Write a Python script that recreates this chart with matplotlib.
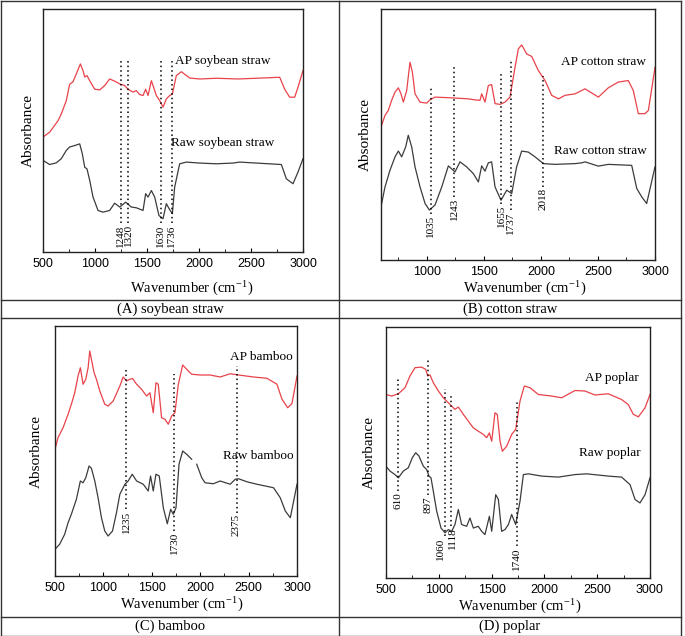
import matplotlib
matplotlib.use('Agg')
import matplotlib.pyplot as plt
from matplotlib.lines import Line2D
import numpy as np

# ---------------- data ----------------
# (A) soybean straw
soy_ap_wn = [500, 564, 644, 676, 724, 756, 788, 827, 859, 885, 901, 923, 949, 997, 1045, 1093, 1141, 1189,
             1237, 1285, 1317, 1365, 1397, 1429, 1462, 1487, 1510, 1542, 1558, 1590, 1622, 1654, 1686, 1718,
             1744, 1782, 1830, 1910, 2006, 2167, 2375, 2551, 2776, 2824, 2872, 2920, 2952, 3000]
soy_ap_abs = [47.3, 49.3, 54, 56.8, 62.3, 69, 70, 74, 77.4, 74.6, 72, 72.6, 70.5, 67, 66.7, 68.5, 71.2, 70.3,
              69.2, 68.5, 67, 65.8, 66.4, 64.8, 64.4, 67, 64.4, 70.5, 68.5, 64.4, 62.3, 59.6, 63, 64.4,
              65, 72.6, 74.2, 71.6, 71.2, 71.5, 71.2, 71.5, 71.9, 67, 63.7, 63.7, 67.8, 74.7]
soy_raw_wn = [500, 564, 628, 676, 724, 756, 804, 853, 878, 901, 923, 949, 981, 1029, 1077, 1141, 1189, 1237,
              1295, 1349, 1397, 1462, 1487, 1510, 1542, 1574, 1615, 1654, 1686, 1718, 1744, 1766, 1814, 1878,
              2006, 2167, 2327, 2391, 2551, 2792, 2840, 2904, 2952, 3000]
soy_raw_abs = [37.7, 36, 36.7, 38.4, 41.8, 43.2, 43.8, 44.5, 40.4, 34.9, 34.2, 29.5, 22.6, 17.1, 16.4, 17.1, 20.1, 18.5,
               20.5, 18.5, 18.2, 17.1, 24, 22.6, 25.3, 22.6, 15, 13.7, 19.9, 17.4, 15.8, 26.7, 36.3, 37,
               36.6, 36.3, 36.6, 37, 36.6, 36, 30.1, 28.1, 32.9, 38.4]
soy_peaks = [1248, 1320, 1630, 1736]
soy_peak_top = [78.8, 78.8, 78.8, 78.8]
soy_peak_bottom = [11.9, 11.9, 11.9, 11.9]

# (B) cotton straw
cot_ap_wn = [600, 635, 664, 693, 723, 752, 775, 796, 825, 854, 875, 898, 942, 1000, 1029, 1073, 1219, 1365,
             1423, 1467, 1482, 1511, 1540, 1569, 1599, 1642, 1686, 1730, 1774, 1803, 1832, 1876, 1920, 1978,
             2037, 2095, 2154, 2212, 2299, 2387, 2504, 2591, 2679, 2766, 2810, 2854, 2912, 2942, 3000]
cot_ap_abs = [53, 57.6, 59.6, 63.6, 66.9, 68.6, 66.2, 62.9, 67.5, 78.8, 74.8, 66.2, 62.9, 62.5, 63.8, 64.9, 64.6, 64.2,
              63.8, 63.6, 66.2, 62.9, 69.5, 69.9, 62.3, 62, 62.9, 64.9, 76.8, 84.1, 85.7, 82.1, 81.1, 75.5,
              71.5, 65.6, 64.2, 65.6, 66.2, 68.2, 64.9, 68.6, 70.9, 71.5, 67.5, 58.3, 58.3, 59.6, 76.8]
cot_raw_wn = [600, 635, 679, 723, 752, 781, 816, 839, 869, 898, 942, 986, 1024, 1073, 1132, 1190, 1248, 1292,
              1350, 1409, 1453, 1482, 1511, 1540, 1569, 1599, 1651, 1701, 1745, 1788, 1832, 1890, 1949, 2022,
              2124, 2299, 2358, 2387, 2504, 2591, 2796, 2840, 2883, 2927, 3000]
cot_raw_abs = [21.2, 29.1, 35.8, 41.1, 43.4, 41.1, 45, 49.7, 45, 37.1, 29.1, 22.5, 19.9, 21.9, 29.1, 37.5, 35.1, 39.1,
               37.1, 34.4, 31.1, 37.5, 35.4, 38.7, 39.1, 29.1, 23.8, 27.8, 26.5, 37.1, 43.4, 43, 41.1, 38.4,
               38.1, 38.4, 38.7, 39.1, 37.4, 38.1, 37.7, 28.5, 25.2, 22.5, 37.1]
cot_peaks = [1035, 1243, 1655, 1737, 2018]
cot_peak_top = [68.9, 76.8, 74.8, 80.1, 73.5]
cot_peak_bottom = [18.5, 25.2, 22.5, 19.9, 29.1]

# (C) bamboo
bam_ap_wn = [500, 531, 583, 635, 669, 704, 738, 762, 790, 818, 842, 859, 876, 904, 928, 963, 1014, 1049, 1101,
             1170, 1204, 1239, 1274, 1301, 1343, 1394, 1446, 1481, 1515, 1543, 1567, 1601, 1636, 1670, 1705,
             1739, 1774, 1819, 1860, 1912, 1999, 2102, 2206, 2310, 2396, 2551, 2689, 2793, 2845, 2904, 2948, 3000]
bam_ap_abs = [50.7, 55.3, 59.3, 64.7, 68.7, 73.3, 80, 83.3, 76.7, 78.7, 83.3, 90, 86.7, 81.3, 78.7, 74, 68.7, 68, 70,
              76, 79.6, 78, 78.7, 79, 76.7, 74.7, 72, 73.3, 65.3, 77.3, 76.7, 63.3, 62.7, 60.7, 64,
              65.3, 76.7, 84.4, 82.7, 80.7, 80.4, 80.4, 79.6, 80.9, 80.4, 79.6, 79.1, 76.7, 70.7, 67.3, 69, 80]
bam_raw_wn = [500, 548, 600, 635, 669, 721, 762, 790, 818, 852, 876, 911, 945, 980, 1014, 1049, 1094, 1135, 1170,
              1222, 1256, 1298, 1343, 1412, 1463, 1487, 1515, 1543, 1577, 1619, 1660, 1695, 1722, 1750, 1781,
              1819, 1860, 1912, 1938, 1964, 2016, 2050, 2136, 2206, 2310, 2362, 2396, 2482, 2586, 2758, 2827,
              2879, 2931, 3000]
bam_raw_abs = [10.7, 12.7, 16.7, 21.3, 24.7, 30.7, 38, 37.3, 39.3, 44, 43.1, 38, 31.3, 23.3, 18, 16, 18, 25.3, 32.7,
               36.7, 38, 40.7, 38, 36.7, 34, 40, 34, 40.7, 40, 27.3, 20.9, 26.7, 24.7, 27.3, 44.7,
               50, 48.7, 46.7, np.nan, 44.7, 39.3, 37.3, 36.9, 38, 36.7, 38.7, 38.9, 37.7, 36.7, 35.3, 31.3,
               26, 23.3, 36.7]
bam_peaks = [1235, 1730, 2375]
bam_peak_top = [83.3, 80.7, 84]
bam_peak_bottom = [26.7, 18, 25.3]

# (D) poplar
pop_ap_wn = [500, 554, 617, 680, 727, 775, 838, 876, 895, 917, 948, 996, 1043, 1090, 1153, 1185, 1232, 1280,
             1327, 1374, 1422, 1453, 1479, 1501, 1532, 1554, 1580, 1602, 1643, 1690, 1728, 1769, 1810, 1864,
             1943, 2069, 2164, 2290, 2384, 2479, 2605, 2731, 2794, 2842, 2890, 2953, 3000]
pop_ap_abs = [73.1, 72.5, 73.4, 75.8, 80.5, 83.8, 84, 83.1, 80.5, 80.9, 77.8, 74.5, 71.8, 69.8, 67.2, 68.1, 65.2, 62.5,
              59.8, 58.5, 57.2, 55.9, 57.8, 54.5, 65.8, 65.2, 54.5, 50.5, 52.5, 57.2, 59.2, 70.5, 76.5, 75.8,
              73.1, 72.5, 71.8, 74.7, 74.5, 72.9, 73.4, 71.1, 69.1, 65.2, 64.2, 67.8, 73.1]
pop_raw_wn = [500, 538, 585, 617, 664, 711, 749, 781, 812, 854, 885, 907, 926, 948, 980, 1021, 1059, 1090, 1122,
              1153, 1185, 1216, 1264, 1295, 1327, 1374, 1406, 1437, 1479, 1501, 1539, 1564, 1595, 1627, 1659,
              1690, 1728, 1769, 1801, 1848, 1974, 2132, 2290, 2400, 2605, 2731, 2811, 2858, 2905, 2953, 3000]
pop_raw_abs = [44.5, 42.6, 41.2, 39.9, 42.6, 43.9, 47.9, 49.9, 48.6, 44.5, 43.2, 40.6, 39.9, 34.6, 26.6, 19.9, 18, 19.3, 18.6,
               21.3, 27.3, 21.3, 20.6, 23.9, 19.9, 20.6, 18.6, 17.3, 24.6, 18.6, 33.2, 31.3, 18.6, 19.3, 21.3,
               25.3, 21.3, 30.6, 41.2, 41.5, 40.6, 40.2, 41.2, 41.5, 40.6, 40.2, 37.2, 31.3, 29.9, 33.2, 39.9]
pop_peaks = [610, 897, 1060, 1118, 1740]
pop_peak_top = [79.1, 87.1, 75.1, 72.5, 70.7]
pop_peak_bottom = [34.6, 32.9, 16.6, 20.6, 12.6]

panel_names = ["soybean straw", "cotton straw", "bamboo", "poplar"]
panel_letters = ["A", "B", "C", "D"]
ap_labels = ["AP soybean straw", "AP cotton straw", "AP bamboo", "AP poplar"]
raw_labels = ["Raw soybean straw", "Raw cotton straw", "Raw bamboo", "Raw poplar"]
xticks = [500, 1000, 1500, 2000, 2500, 3000]

# ---------------- figure ----------------
W, H = 685, 636
fig = plt.figure(figsize=(W / 100, H / 100), dpi=100)
plt.rcParams['mathtext.fontset'] = 'stix'

SERIF = 'Liberation Serif'
SANS = 'Liberation Sans'
RED = '#e8434a'
GRAY = '#3c3c3c'


def px_rect(l, r, t, b):
    return [l / W, 1 - b / H, (r - l) / W, (b - t) / H]


def fx(x):
    return x / W


def fy(y):
    return 1 - y / H


# table grid
line_kw = dict(color='#333333', lw=1.0, transform=fig.transFigure)
for y in [0.5, 300, 318, 617, 635.5]:
    fig.add_artist(Line2D([fx(1), fx(681)], [fy(y), fy(y)], **line_kw))
for x in [1, 339, 681]:
    fig.add_artist(Line2D([fx(x), fx(x)], [fy(0.5), fy(635.5)], **line_kw))

panels = [
    dict(rect=(43, 303, 9, 252), xlim=(500, 3000), ap=(soy_ap_wn, soy_ap_abs), raw=(soy_raw_wn, soy_raw_abs),
         peaks=(soy_peaks, soy_peak_top, soy_peak_bottom), lab_dx=[0, 0, 0, 0],
         ap_txt=(2230, 78.4), raw_txt=(2230, 44.8),
         ylab_x=28, xlab_x=192, xlab_y=288, cap=(170, 309)),
    dict(rect=(381, 655, 9, 260), xlim=(600, 3000), ap=(cot_ap_wn, cot_ap_abs), raw=(cot_raw_wn, cot_raw_abs),
         peaks=(cot_peaks, cot_peak_top, cot_peak_bottom), lab_dx=[0, 0, 0, 0, 0],
         ap_txt=(2547, 78.8), raw_txt=(2518, 43.3),
         ylab_x=365, xlab_x=525, xlab_y=288, cap=(510, 309)),
    dict(rect=(55, 297, 326, 576), xlim=(500, 3000), ap=(bam_ap_wn, bam_ap_abs), raw=(bam_raw_wn, bam_raw_abs),
         peaks=(bam_peaks, bam_peak_top, bam_peak_bottom), lab_dx=[0, 0, 0],
         ap_txt=(2637, 87.6), raw_txt=(2603, 48),
         ylab_x=36, xlab_x=182, xlab_y=604, cap=(170, 626)),
    dict(rect=(386, 650, 327, 578), xlim=(500, 3000), ap=(pop_ap_wn, pop_ap_abs), raw=(pop_raw_wn, pop_raw_abs),
         peaks=(pop_peaks, pop_peak_top, pop_peak_bottom), lab_dx=[0, 0, -3, 1, 0],
         ap_txt=(2637, 79.8), raw_txt=(2621, 49.9),
         ylab_x=369, xlab_x=520, xlab_y=606, cap=(510, 626)),
]

for i, p in enumerate(panels):
    l, r, t, b = p['rect']
    ax = fig.add_axes(px_rect(l, r, t, b))
    ax.plot(p['ap'][0], p['ap'][1], color=RED, lw=0.9)
    ax.plot(p['raw'][0], p['raw'][1], color=GRAY, lw=0.9)
    ax.set_xlim(*p['xlim'])
    ax.set_ylim(0, 100)
    ax.set_yticks([])
    ax.set_xticks([v for v in xticks if p['xlim'][0] <= v <= p['xlim'][1]])
    ax.set_xticks(np.arange(750, 3000, 500), minor=True)
    ax.tick_params(axis='x', which='major', direction='in', length=3, width=0.8, labelsize=9, pad=4)
    ax.tick_params(axis='x', which='minor', direction='in', length=2, width=0.6)
    for lab in ax.get_xticklabels():
        lab.set_fontfamily(SANS)
    for s in ax.spines.values():
        s.set_linewidth(1.0)
        s.set_color('#222222')
    pk, ptop, pbot = p['peaks']
    for x, yt, yb, dx in zip(pk, ptop, pbot, p['lab_dx']):
        ax.plot([x, x], [yb, yt], color='black', lw=1.1, ls=(0, (1, 2)))
        ax.annotate(str(x), xy=(x, yb - 0.5), xytext=(dx, 0), textcoords='offset points',
                    rotation=90, ha='center', va='top', fontsize=8, family=SERIF)
    ax.text(p['ap_txt'][0], p['ap_txt'][1], ap_labels[i], ha='center', va='center', fontsize=9.5, family=SERIF)
    ax.text(p['raw_txt'][0], p['raw_txt'][1], raw_labels[i], ha='center', va='center', fontsize=9.5, family=SERIF)

    fig.text(fx(p['ylab_x']), fy((t + b) / 2), 'Absorbance', rotation=90, ha='center', va='center',
             fontsize=11, family=SERIF)
    fig.text(fx(p['xlab_x']), fy(p['xlab_y']), r'Wavenumber (cm$^{\mathregular{-1}}$)', ha='center',
             va='center', fontsize=10.5, family=SERIF)
    fig.text(fx(p['cap'][0]), fy(p['cap'][1]), f"({panel_letters[i]}) {panel_names[i]}", ha='center',
             va='center', fontsize=10.5, family=SERIF)

fig.savefig('out.png', dpi=100)
